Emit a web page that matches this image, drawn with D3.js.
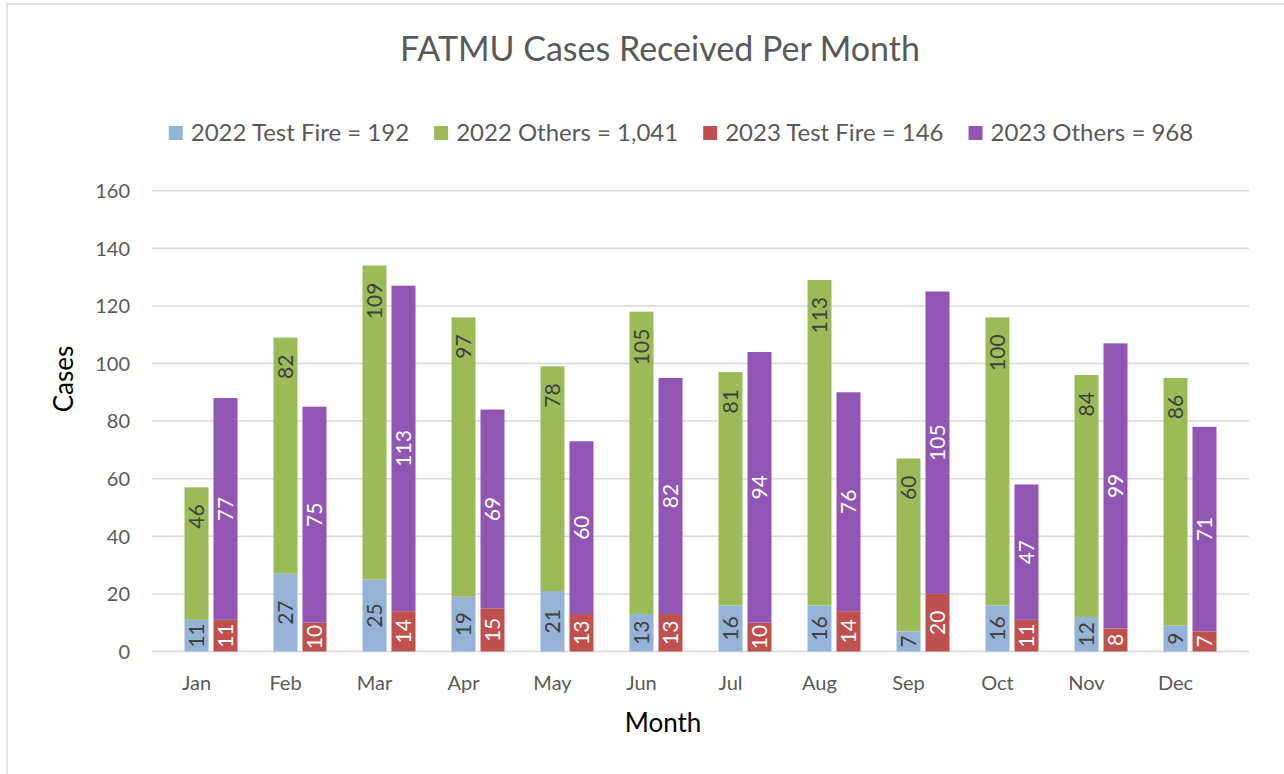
<!DOCTYPE html>
<html>
<head>
<meta charset="utf-8">
<script src="https://cdn.jsdelivr.net/npm/d3@7"></script>
<style>
  body { margin: 0; background: #fff; }
  text { font-family: Lato, "Open Sans", sans-serif; }
</style>
</head>
<body>
<div id="chart-container"></div>
<script>
const months = ["Jan", "Feb", "Mar", "Apr", "May", "Jun", "Jul", "Aug", "Sep", "Oct", "Nov", "Dec"];
const testFire2022 = [11, 27, 25, 19, 21, 13, 16, 16, 7, 16, 12, 9];
const others2022 = [46, 82, 109, 97, 78, 105, 81, 113, 60, 100, 84, 86];
const testFire2023 = [11, 10, 14, 15, 13, 13, 10, 14, 20, 11, 8, 7];
const others2023 = [77, 75, 113, 69, 60, 82, 94, 76, 105, 47, 99, 71];
const yTicks = [0, 20, 40, 60, 80, 100, 120, 140, 160];
const legendLabels = ["2022 Test Fire = 192", "2022 Others = 1,041", "2023 Test Fire = 146", "2023 Others = 968"];

const svgWidth = 1284,
    svgHeight = 774;
const colors = ["#95B3D7", "#9BBB59", "#C0504D", "#9155B4"];
const labelColors = ["#404040", "#404040", "#ffffff", "#ffffff"];

const svg = d3.select("#chart-container").append("svg")
    .attr("width", svgWidth)
    .attr("height", svgHeight);

// chart frame (only top and left edges fall inside the picture)
svg.append("rect")
    .attr("x", 7).attr("y", 4)
    .attr("width", 1300).attr("height", 800)
    .attr("fill", "none")
    .attr("stroke", "#d9d9d9")
    .attr("stroke-width", 1.5);

const plotLeft = 152, plotRight = 1249;

// scales
const xScale = d3.scaleBand()
    .domain(months)
    .range([plotLeft, plotLeft + 12 * 89]);
const yScale = d3.scaleLinear()
    .domain([0, 160])
    .range([651.5, 190.7]);

const barW = 24, barGap = 29;

// gridlines
svg.append("g").selectAll("line")
    .data(yTicks)
    .join("line")
    .attr("x1", plotLeft).attr("x2", plotRight)
    .attr("y1", (d) => yScale(d)).attr("y2", (d) => yScale(d))
    .attr("stroke", "#d9d9d9")
    .attr("stroke-width", 1.5);

// y axis labels
svg.append("g").selectAll("text")
    .data(yTicks)
    .join("text")
    .attr("x", 130)
    .attr("y", (d) => yScale(d))
    .attr("dy", "0.36em")
    .attr("text-anchor", "end")
    .attr("font-size", 20)
    .attr("fill", "#595959")
    .text((d) => d);

// x axis labels
svg.append("g").selectAll("text")
    .data(months)
    .join("text")
    .attr("x", (d) => xScale(d) + xScale.bandwidth() / 2)
    .attr("y", 690)
    .attr("text-anchor", "middle")
    .attr("font-size", 20)
    .attr("fill", "#595959")
    .text((d) => d);

// build stacked segments
let segments = [];
months.forEach((m, i) => {
    const c = xScale(m) + xScale.bandwidth() / 2;
    segments.push({ x: c - barW / 2, y0: 0, y1: testFire2022[i], v: testFire2022[i], s: 0 });
    segments.push({ x: c - barW / 2, y0: testFire2022[i], y1: testFire2022[i] + others2022[i], v: others2022[i], s: 1 });
    segments.push({ x: c - barW / 2 + barGap, y0: 0, y1: testFire2023[i], v: testFire2023[i], s: 2 });
    segments.push({ x: c - barW / 2 + barGap, y0: testFire2023[i], y1: testFire2023[i] + others2023[i], v: others2023[i], s: 3 });
});

svg.append("g").selectAll("rect")
    .data(segments)
    .join("rect")
    .attr("x", (d) => d.x)
    .attr("y", (d) => yScale(d.y1))
    .attr("width", barW)
    .attr("height", (d) => yScale(d.y0) - yScale(d.y1))
    .attr("fill", (d) => colors[d.s]);

// data labels, rotated 270; 2022 others sit at inside end, the rest centred
svg.append("g").selectAll("text")
    .data(segments)
    .join("text")
    .attr("transform", (d) => {
        const cx = d.x + barW / 2;
        const cy = d.s === 1 ? yScale(d.y1) + 17 : yScale((d.y0 + d.y1) / 2);
        return "translate(" + cx + "," + cy + ") rotate(-90)";
    })
    .attr("text-anchor", (d) => d.s === 1 ? "end" : "middle")
    .attr("dy", "0.36em")
    .attr("font-size", 21)
    .attr("fill", (d) => labelColors[d.s])
    .text((d) => d.v);

// title
svg.append("text")
    .attr("x", 660)
    .attr("y", 61)
    .attr("text-anchor", "middle")
    .attr("font-size", 34)
    .attr("fill", "#595959")
    .text("FATMU Cases Received Per Month");

// axis titles
svg.append("text")
    .attr("transform", "translate(73,379) rotate(-90)")
    .attr("text-anchor", "middle")
    .attr("font-size", 26)
    .attr("fill", "#000")
    .text("Cases");
svg.append("text")
    .attr("x", 663)
    .attr("y", 732)
    .attr("text-anchor", "middle")
    .attr("font-size", 26)
    .attr("fill", "#000")
    .text("Month");

// legend
const legend = svg.append("g");
const items = legend.selectAll("g")
    .data(legendLabels)
    .join("g");
items.append("rect")
    .attr("width", 14).attr("height", 14)
    .attr("y", -15)
    .attr("fill", (d, i) => colors[i]);
items.append("text")
    .attr("x", 22)
    .attr("font-size", 24)
    .attr("fill", "#595959")
    .text((d) => d);
let cx = 0;
items.each(function () {
    const w = this.querySelector("text").getComputedTextLength();
    d3.select(this).attr("transform", "translate(" + cx + ",0)");
    cx += 22 + w + 25;
});
const totalW = cx - 25;
legend.attr("transform", "translate(" + (681 - totalW / 2) + ",141)");
</script>
</body>
</html>
